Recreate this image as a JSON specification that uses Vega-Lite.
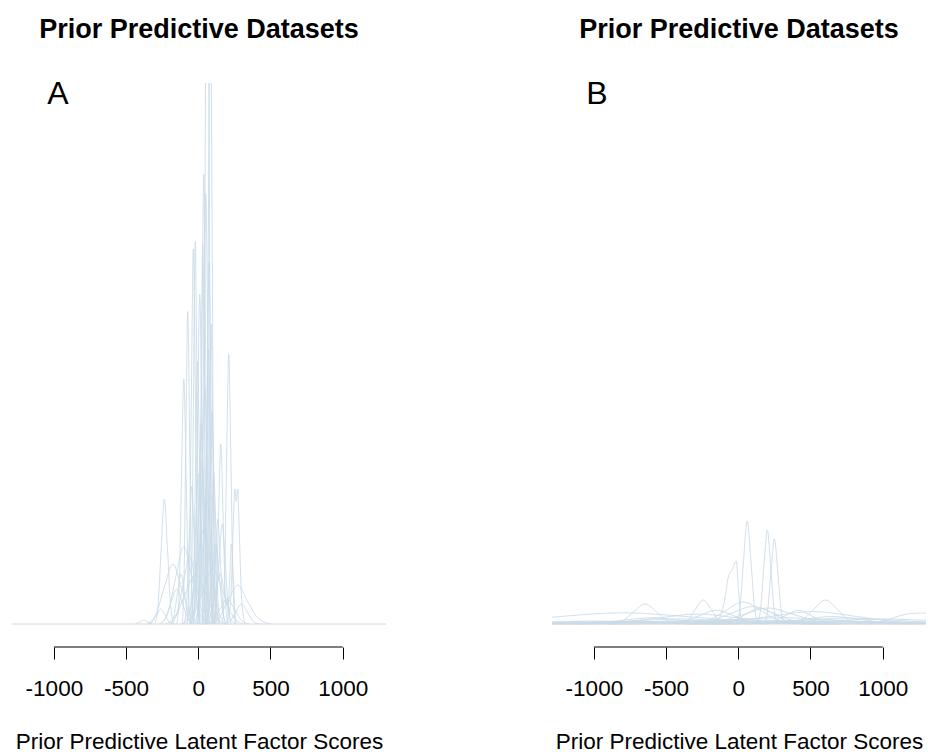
{
  "$schema": "https://vega.github.io/schema/vega-lite/v6.json",
  "padding": {"left": 11, "top": 16, "right": 0, "bottom": 0},
  "config": {
    "view": {"stroke": null},
    "font": "Liberation Sans",
    "title": {"fontSize": 27, "fontWeight": "bold", "color": "#000000", "font": "Liberation Sans", "offset": 34, "anchor": "middle"},
    "axisX": {
      "domain": false,
      "grid": false,
      "ticks": true,
      "tickSize": 12,
      "tickColor": "#000000",
      "tickWidth": 1,
      "labelFontSize": 22.5,
      "labelColor": "#000000",
      "labelPadding": 18,
      "labelFlush": false,
      "labelOverlap": false,
      "titleFontSize": 22.5,
      "titleFontWeight": "normal",
      "titleColor": "#000000",
      "titlePadding": 31
    }
  },
  "datasets": {
    "curvesA": [
      {"curve":"a1","score":26,"density":0},{"curve":"a1","score":38,"density":5.0},{"curve":"a1","score":50,"density":21.6},{"curve":"a1","score":62,"density":36},{"curve":"a1","score":74,"density":21.6},{"curve":"a1","score":86,"density":5.0},{"curve":"a1","score":98,"density":0},
      {"curve":"a2","score":47,"density":0},{"curve":"a2","score":59,"density":3.9},{"curve":"a2","score":71,"density":16.8},{"curve":"a2","score":83,"density":28},{"curve":"a2","score":95,"density":16.8},{"curve":"a2","score":107,"density":3.9},{"curve":"a2","score":119,"density":0},
      {"curve":"a3","score":-1,"density":0},{"curve":"a3","score":12,"density":2.5},{"curve":"a3","score":25,"density":10.8},{"curve":"a3","score":38,"density":18},{"curve":"a3","score":51,"density":10.8},{"curve":"a3","score":64,"density":2.5},{"curve":"a3","score":77,"density":0},
      {"curve":"a4","score":4,"density":0},{"curve":"a4","score":20,"density":2.4},{"curve":"a4","score":36,"density":10.3},{"curve":"a4","score":52,"density":17.2},{"curve":"a4","score":68,"density":10.3},{"curve":"a4","score":84,"density":2.4},{"curve":"a4","score":100,"density":0},
      {"curve":"a5","score":-57,"density":0},{"curve":"a5","score":-45,"density":2.1},{"curve":"a5","score":-33,"density":9.2},{"curve":"a5","score":-21,"density":15.3},{"curve":"a5","score":-9,"density":9.2},{"curve":"a5","score":3,"density":2.1},{"curve":"a5","score":15,"density":0},
      {"curve":"a6","score":-35,"density":0},{"curve":"a6","score":-20,"density":1.8},{"curve":"a6","score":-5,"density":7.9},{"curve":"a6","score":10,"density":13.2},{"curve":"a6","score":25,"density":7.9},{"curve":"a6","score":40,"density":1.8},{"curve":"a6","score":55,"density":0},
      {"curve":"a7","score":-112,"density":0},{"curve":"a7","score":-99,"density":1.75},{"curve":"a7","score":-86,"density":7.5},{"curve":"a7","score":-73,"density":12.5},{"curve":"a7","score":-60,"density":7.5},{"curve":"a7","score":-47,"density":1.75},{"curve":"a7","score":-34,"density":0},
      {"curve":"a8","score":166,"density":0},{"curve":"a8","score":181,"density":1.5},{"curve":"a8","score":196,"density":6.5},{"curve":"a8","score":211,"density":10.8},{"curve":"a8","score":226,"density":6.5},{"curve":"a8","score":241,"density":1.5},{"curve":"a8","score":256,"density":0},
      {"curve":"a9","score":-148,"density":0},{"curve":"a9","score":-132,"density":1.4},{"curve":"a9","score":-116,"density":5.9},{"curve":"a9","score":-100,"density":9.8},{"curve":"a9","score":-84,"density":5.9},{"curve":"a9","score":-68,"density":1.4},{"curve":"a9","score":-52,"density":0},
      {"curve":"a10","score":108,"density":0},{"curve":"a10","score":124,"density":1.0},{"curve":"a10","score":140,"density":4.3},{"curve":"a10","score":156,"density":7.2},{"curve":"a10","score":172,"density":4.3},{"curve":"a10","score":188,"density":1.0},{"curve":"a10","score":204,"density":0},
      {"curve":"a11","score":62,"density":0},{"curve":"a11","score":77,"density":0.85},{"curve":"a11","score":92,"density":3.7},{"curve":"a11","score":107,"density":6.1},{"curve":"a11","score":122,"density":3.7},{"curve":"a11","score":137,"density":0.85},{"curve":"a11","score":152,"density":0},
      {"curve":"a12","score":200,"density":0},{"curve":"a12","score":225,"density":1.0},{"curve":"a12","score":240,"density":3.5},{"curve":"a12","score":253,"density":5.4},{"curve":"a12","score":263,"density":4.9},{"curve":"a12","score":273,"density":5.4},{"curve":"a12","score":285,"density":3.5},{"curve":"a12","score":300,"density":1.0},{"curve":"a12","score":325,"density":0},
      {"curve":"a13","score":-301,"density":0},{"curve":"a13","score":-279,"density":0.7},{"curve":"a13","score":-257,"density":3.0},{"curve":"a13","score":-235,"density":5.0},{"curve":"a13","score":-213,"density":3.0},{"curve":"a13","score":-191,"density":0.7},{"curve":"a13","score":-169,"density":0},
      {"curve":"a14","score":-5,"density":0},{"curve":"a14","score":7,"density":2.1},{"curve":"a14","score":19,"density":9.1},{"curve":"a14","score":31,"density":15.2},{"curve":"a14","score":43,"density":9.1},{"curve":"a14","score":55,"density":2.1},{"curve":"a14","score":67,"density":0},
      {"curve":"a15","score":-76,"density":0},{"curve":"a15","score":-62,"density":2.1},{"curve":"a15","score":-48,"density":9.0},{"curve":"a15","score":-34,"density":15.0},{"curve":"a15","score":-20,"density":9.0},{"curve":"a15","score":-6,"density":2.1},{"curve":"a15","score":8,"density":0},
      {"curve":"a16","score":28,"density":0},{"curve":"a16","score":42,"density":1.5},{"curve":"a16","score":56,"density":6.6},{"curve":"a16","score":70,"density":11},{"curve":"a16","score":84,"density":6.6},{"curve":"a16","score":98,"density":1.5},{"curve":"a16","score":112,"density":0},
      {"curve":"a17","score":50,"density":0},{"curve":"a17","score":65,"density":1.2},{"curve":"a17","score":80,"density":5.1},{"curve":"a17","score":95,"density":8.5},{"curve":"a17","score":110,"density":5.1},{"curve":"a17","score":125,"density":1.2},{"curve":"a17","score":140,"density":0},
      {"curve":"a18","score":-34,"density":0},{"curve":"a18","score":-16,"density":1.1},{"curve":"a18","score":2,"density":4.8},{"curve":"a18","score":20,"density":8},{"curve":"a18","score":38,"density":4.8},{"curve":"a18","score":56,"density":1.1},{"curve":"a18","score":74,"density":0},
      {"curve":"a19","score":36,"density":0},{"curve":"a19","score":49,"density":2.0},{"curve":"a19","score":62,"density":8.7},{"curve":"a19","score":75,"density":14.5},{"curve":"a19","score":88,"density":8.7},{"curve":"a19","score":101,"density":2.0},{"curve":"a19","score":114,"density":0},
      {"curve":"a20","score":-15,"density":0},{"curve":"a20","score":5,"density":1.3},{"curve":"a20","score":25,"density":5.7},{"curve":"a20","score":45,"density":9.5},{"curve":"a20","score":65,"density":5.7},{"curve":"a20","score":85,"density":1.3},{"curve":"a20","score":105,"density":0},
      {"curve":"a21","score":-60,"density":0},{"curve":"a21","score":-40,"density":0.85},{"curve":"a21","score":-20,"density":3.6},{"curve":"a21","score":0,"density":6.0},{"curve":"a21","score":20,"density":3.6},{"curve":"a21","score":40,"density":0.85},{"curve":"a21","score":60,"density":0},
      {"curve":"a22","score":-99,"density":0},{"curve":"a22","score":-81,"density":0.8},{"curve":"a22","score":-63,"density":3.3},{"curve":"a22","score":-45,"density":5.5},{"curve":"a22","score":-27,"density":3.3},{"curve":"a22","score":-9,"density":0.8},{"curve":"a22","score":9,"density":0},
      {"curve":"a23","score":81,"density":0},{"curve":"a23","score":99,"density":0.6},{"curve":"a23","score":117,"density":2.5},{"curve":"a23","score":135,"density":4.2},{"curve":"a23","score":153,"density":2.5},{"curve":"a23","score":171,"density":0.6},{"curve":"a23","score":189,"density":0},
      {"curve":"a24","score":99,"density":0},{"curve":"a24","score":121,"density":0.55},{"curve":"a24","score":143,"density":2.4},{"curve":"a24","score":165,"density":4.0},{"curve":"a24","score":187,"density":2.4},{"curve":"a24","score":209,"density":0.55},{"curve":"a24","score":231,"density":0},
      {"curve":"a25","score":46,"density":0},{"curve":"a25","score":71,"density":0.45},{"curve":"a25","score":96,"density":1.9},{"curve":"a25","score":121,"density":3.2},{"curve":"a25","score":146,"density":1.9},{"curve":"a25","score":171,"density":0.45},{"curve":"a25","score":196,"density":0},
      {"curve":"a26","score":-265,"density":0},{"curve":"a26","score":-210,"density":0.45},{"curve":"a26","score":-155,"density":1.9},{"curve":"a26","score":-100,"density":3.1},{"curve":"a26","score":-45,"density":1.9},{"curve":"a26","score":10,"density":0.45},{"curve":"a26","score":65,"density":0},
      {"curve":"a27","score":-356,"density":0},{"curve":"a27","score":-296,"density":0.35},{"curve":"a27","score":-236,"density":1.45},{"curve":"a27","score":-176,"density":2.4},{"curve":"a27","score":-116,"density":1.45},{"curve":"a27","score":-56,"density":0.35},{"curve":"a27","score":4,"density":0},
      {"curve":"a28","score":78,"density":0},{"curve":"a28","score":143,"density":0.25},{"curve":"a28","score":208,"density":0.95},{"curve":"a28","score":273,"density":1.56},{"curve":"a28","score":338,"density":0.95},{"curve":"a28","score":403,"density":0.3},{"curve":"a28","score":500,"density":0},
      {"curve":"a29","score":-437,"density":0},{"curve":"a29","score":-397,"density":0.1},{"curve":"a29","score":-377,"density":0.16},{"curve":"a29","score":-357,"density":0.1},{"curve":"a29","score":-317,"density":0},
      {"curve":"a30","score":-110,"density":0},{"curve":"a30","score":-60,"density":0.5},{"curve":"a30","score":-10,"density":2.3},{"curve":"a30","score":40,"density":3.8},{"curve":"a30","score":90,"density":2.3},{"curve":"a30","score":140,"density":0.5},{"curve":"a30","score":190,"density":0},
      {"curve":"a31","score":-230,"density":0},{"curve":"a31","score":-160,"density":0.3},{"curve":"a31","score":-90,"density":1.2},{"curve":"a31","score":-20,"density":2.0},{"curve":"a31","score":50,"density":1.2},{"curve":"a31","score":120,"density":0.3},{"curve":"a31","score":190,"density":0},
      {"curve":"a32","score":-110,"density":0},{"curve":"a32","score":-40,"density":0.3},{"curve":"a32","score":30,"density":1.3},{"curve":"a32","score":100,"density":2.2},{"curve":"a32","score":170,"density":1.3},{"curve":"a32","score":240,"density":0.3},{"curve":"a32","score":310,"density":0},
      {"curve":"a33","score":-270,"density":0},{"curve":"a33","score":-230,"density":0.2},{"curve":"a33","score":-190,"density":0.85},{"curve":"a33","score":-150,"density":1.4},{"curve":"a33","score":-110,"density":0.85},{"curve":"a33","score":-70,"density":0.2},{"curve":"a33","score":-30,"density":0},
      {"curve":"a34","score":50,"density":0},{"curve":"a34","score":100,"density":0.14},{"curve":"a34","score":150,"density":0.6},{"curve":"a34","score":200,"density":1.0},{"curve":"a34","score":250,"density":0.6},{"curve":"a34","score":300,"density":0.14},{"curve":"a34","score":350,"density":0},
      {"curve":"a35","score":-195,"density":0},{"curve":"a35","score":-150,"density":0.38},{"curve":"a35","score":-105,"density":1.6},{"curve":"a35","score":-60,"density":2.7},{"curve":"a35","score":-15,"density":1.6},{"curve":"a35","score":30,"density":0.38},{"curve":"a35","score":75,"density":0},
      {"curve":"a36","score":-30,"density":0},{"curve":"a36","score":0,"density":0.7},{"curve":"a36","score":30,"density":3.0},{"curve":"a36","score":60,"density":5.0},{"curve":"a36","score":90,"density":3.0},{"curve":"a36","score":120,"density":0.7},{"curve":"a36","score":150,"density":0},
      {"curve":"a37","score":45,"density":0},{"curve":"a37","score":80,"density":0.28},{"curve":"a37","score":115,"density":1.2},{"curve":"a37","score":150,"density":2.0},{"curve":"a37","score":185,"density":1.2},{"curve":"a37","score":220,"density":0.28},{"curve":"a37","score":255,"density":0},
      {"curve":"a38","score":180,"density":0},{"curve":"a38","score":220,"density":0.11},{"curve":"a38","score":260,"density":0.48},{"curve":"a38","score":300,"density":0.8},{"curve":"a38","score":340,"density":0.48},{"curve":"a38","score":380,"density":0.11},{"curve":"a38","score":420,"density":0},
      {"curve":"a39","score":-350,"density":0},{"curve":"a39","score":-320,"density":0.08},{"curve":"a39","score":-290,"density":0.36},{"curve":"a39","score":-260,"density":0.6},{"curve":"a39","score":-230,"density":0.36},{"curve":"a39","score":-200,"density":0.08},{"curve":"a39","score":-170,"density":0},
      {"curve":"a40","score":194,"density":0},{"curve":"a40","score":206,"density":0.45},{"curve":"a40","score":218,"density":1.9},{"curve":"a40","score":230,"density":3.2},{"curve":"a40","score":242,"density":1.9},{"curve":"a40","score":254,"density":0.45},{"curve":"a40","score":266,"density":0},
      {"curve":"a41","score":-47,"density":0},{"curve":"a41","score":-33,"density":1.5},{"curve":"a41","score":-19,"density":6.3},{"curve":"a41","score":-5,"density":10.5},{"curve":"a41","score":9,"density":6.3},{"curve":"a41","score":23,"density":1.5},{"curve":"a41","score":37,"density":0},
      {"curve":"a42","score":49,"density":0},{"curve":"a42","score":62,"density":1.7},{"curve":"a42","score":75,"density":7.2},{"curve":"a42","score":88,"density":12},{"curve":"a42","score":101,"density":7.2},{"curve":"a42","score":114,"density":1.7},{"curve":"a42","score":127,"density":0},
      {"curve":"a43","score":-50,"density":0},{"curve":"a43","score":-25,"density":0.9},{"curve":"a43","score":0,"density":3.9},{"curve":"a43","score":25,"density":6.5},{"curve":"a43","score":50,"density":3.9},{"curve":"a43","score":75,"density":0.9},{"curve":"a43","score":100,"density":0},
      {"curve":"a44","score":-195,"density":0},{"curve":"a44","score":-170,"density":0.28},{"curve":"a44","score":-145,"density":1.2},{"curve":"a44","score":-120,"density":2.0},{"curve":"a44","score":-95,"density":1.2},{"curve":"a44","score":-70,"density":0.28},{"curve":"a44","score":-45,"density":0}
    ],
    "curvesB": [
      {"curve":"b1","score":-16,"density":0},{"curve":"b1","score":10,"density":0.58},{"curve":"b1","score":36,"density":2.5},{"curve":"b1","score":62,"density":4.12},{"curve":"b1","score":88,"density":2.5},{"curve":"b1","score":114,"density":0.58},{"curve":"b1","score":140,"density":0},
      {"curve":"b2","score":129,"density":0},{"curve":"b2","score":153,"density":0.53},{"curve":"b2","score":177,"density":2.26},{"curve":"b2","score":201,"density":3.76},{"curve":"b2","score":225,"density":2.26},{"curve":"b2","score":249,"density":0.53},{"curve":"b2","score":273,"density":0},
      {"curve":"b3","score":178,"density":0},{"curve":"b3","score":202,"density":0.48},{"curve":"b3","score":226,"density":2.04},{"curve":"b3","score":250,"density":3.4},{"curve":"b3","score":274,"density":2.04},{"curve":"b3","score":298,"density":0.48},{"curve":"b3","score":322,"density":0},
      {"curve":"b4","score":-170,"density":0},{"curve":"b4","score":-130,"density":0.25},{"curve":"b4","score":-90,"density":1.1},{"curve":"b4","score":-69,"density":1.88},{"curve":"b4","score":-40,"density":2.2},{"curve":"b4","score":-14,"density":2.52},{"curve":"b4","score":2,"density":1.3},{"curve":"b4","score":20,"density":0.2},{"curve":"b4","score":40,"density":0},
      {"curve":"b5","score":355,"density":0},{"curve":"b5","score":438,"density":0.13},{"curve":"b5","score":521,"density":0.58},{"curve":"b5","score":604,"density":0.96},{"curve":"b5","score":687,"density":0.58},{"curve":"b5","score":770,"density":0.13},{"curve":"b5","score":853,"density":0},
      {"curve":"b6","score":-885,"density":0},{"curve":"b6","score":-805,"density":0.11},{"curve":"b6","score":-725,"density":0.48},{"curve":"b6","score":-645,"density":0.8},{"curve":"b6","score":-565,"density":0.48},{"curve":"b6","score":-485,"density":0.11},{"curve":"b6","score":-405,"density":0},
      {"curve":"b7","score":-408,"density":0},{"curve":"b7","score":-353,"density":0.13},{"curve":"b7","score":-298,"density":0.58},{"curve":"b7","score":-243,"density":0.96},{"curve":"b7","score":-188,"density":0.58},{"curve":"b7","score":-133,"density":0.13},{"curve":"b7","score":-78,"density":0},
      {"curve":"b8","score":-340,"density":0},{"curve":"b8","score":-215,"density":0.12},{"curve":"b8","score":-90,"density":0.53},{"curve":"b8","score":35,"density":0.88},{"curve":"b8","score":160,"density":0.53},{"curve":"b8","score":285,"density":0.12},{"curve":"b8","score":410,"density":0},
      {"curve":"b9","score":-314,"density":0},{"curve":"b9","score":-140,"density":0.09},{"curve":"b9","score":34,"density":0.38},{"curve":"b9","score":208,"density":0.64},{"curve":"b9","score":382,"density":0.38},{"curve":"b9","score":556,"density":0.09},{"curve":"b9","score":730,"density":0},
      {"curve":"b10","score":900,"density":0},{"curve":"b10","score":1000,"density":0.1},{"curve":"b10","score":1100,"density":0.3},{"curve":"b10","score":1200,"density":0.42},{"curve":"b10","score":1284,"density":0.44},{"curve":"b10","score":1400,"density":0.3},{"curve":"b10","score":1500,"density":0.1},
      {"curve":"b11","score":-2300,"density":0},{"curve":"b11","score":-1800,"density":0.06},{"curve":"b11","score":-1300,"density":0.27},{"curve":"b11","score":-800,"density":0.45},{"curve":"b11","score":-300,"density":0.27},{"curve":"b11","score":200,"density":0.06},{"curve":"b11","score":700,"density":0},
      {"curve":"b12","score":-1112,"density":0},{"curve":"b12","score":-834,"density":0.06},{"curve":"b12","score":-556,"density":0.24},{"curve":"b12","score":-278,"density":0.4},{"curve":"b12","score":0,"density":0.24},{"curve":"b12","score":278,"density":0.06},{"curve":"b12","score":556,"density":0},
      {"curve":"b13","score":-278,"density":0},{"curve":"b13","score":69,"density":0.03},{"curve":"b13","score":416,"density":0.14},{"curve":"b13","score":763,"density":0.24},{"curve":"b13","score":1110,"density":0.14},{"curve":"b13","score":1457,"density":0.03},{"curve":"b13","score":1804,"density":0},
      {"curve":"b14","score":-380,"density":0},{"curve":"b14","score":-80,"density":0.07},{"curve":"b14","score":220,"density":0.3},{"curve":"b14","score":520,"density":0.5},{"curve":"b14","score":820,"density":0.3},{"curve":"b14","score":1120,"density":0.07},{"curve":"b14","score":1420,"density":0},
      {"curve":"b15","score":-350,"density":0},{"curve":"b15","score":-200,"density":0.1},{"curve":"b15","score":-50,"density":0.42},{"curve":"b15","score":100,"density":0.7},{"curve":"b15","score":250,"density":0.42},{"curve":"b15","score":400,"density":0.1},{"curve":"b15","score":550,"density":0},
      {"curve":"b16","score":-1450,"density":0},{"curve":"b16","score":-1100,"density":0.03},{"curve":"b16","score":-750,"density":0.12},{"curve":"b16","score":-400,"density":0.2},{"curve":"b16","score":-50,"density":0.12},{"curve":"b16","score":300,"density":0.03},{"curve":"b16","score":650,"density":0},
      {"curve":"b17","score":-1800,"density":0},{"curve":"b17","score":-1200,"density":0.02},{"curve":"b17","score":-600,"density":0.1},{"curve":"b17","score":0,"density":0.16},{"curve":"b17","score":600,"density":0.1},{"curve":"b17","score":1200,"density":0.02},{"curve":"b17","score":1800,"density":0},
      {"curve":"b18","score":-900,"density":0},{"curve":"b18","score":-500,"density":0.035},{"curve":"b18","score":-100,"density":0.15},{"curve":"b18","score":300,"density":0.25},{"curve":"b18","score":700,"density":0.15},{"curve":"b18","score":1100,"density":0.035},{"curve":"b18","score":1500,"density":0},
      {"curve":"b19","score":-1900,"density":0},{"curve":"b19","score":-1600,"density":0.017},{"curve":"b19","score":-1300,"density":0.07},{"curve":"b19","score":-1000,"density":0.12},{"curve":"b19","score":-700,"density":0.07},{"curve":"b19","score":-400,"density":0.017},{"curve":"b19","score":-100,"density":0},
      {"curve":"b20","score":-200,"density":0},{"curve":"b20","score":200,"density":0.03},{"curve":"b20","score":600,"density":0.12},{"curve":"b20","score":1000,"density":0.2},{"curve":"b20","score":1400,"density":0.12},{"curve":"b20","score":1800,"density":0.03},{"curve":"b20","score":2200,"density":0},
      {"curve":"b22","score":146,"density":0},{"curve":"b22","score":236,"density":0.08},{"curve":"b22","score":326,"density":0.33},{"curve":"b22","score":416,"density":0.55},{"curve":"b22","score":506,"density":0.33},{"curve":"b22","score":596,"density":0.08},{"curve":"b22","score":686,"density":0},
      {"curve":"b23","score":-150,"density":0},{"curve":"b23","score":-50,"density":0.09},{"curve":"b23","score":50,"density":0.38},{"curve":"b23","score":150,"density":0.64},{"curve":"b23","score":250,"density":0.38},{"curve":"b23","score":350,"density":0.09},{"curve":"b23","score":450,"density":0},
      {"curve":"b24","score":-510,"density":0},{"curve":"b24","score":-390,"density":0.08},{"curve":"b24","score":-270,"density":0.33},{"curve":"b24","score":-150,"density":0.55},{"curve":"b24","score":-30,"density":0.33},{"curve":"b24","score":90,"density":0.08},{"curve":"b24","score":210,"density":0},
      {"curve":"b25","score":50,"density":0},{"curve":"b25","score":250,"density":0.04},{"curve":"b25","score":450,"density":0.18},{"curve":"b25","score":650,"density":0.3},{"curve":"b25","score":850,"density":0.18},{"curve":"b25","score":1050,"density":0.04},{"curve":"b25","score":1250,"density":0},
      {"curve":"b26","score":-1200,"density":0},{"curve":"b26","score":-1000,"density":0.035},{"curve":"b26","score":-800,"density":0.15},{"curve":"b26","score":-600,"density":0.25},{"curve":"b26","score":-400,"density":0.15},{"curve":"b26","score":-200,"density":0.035},{"curve":"b26","score":0,"density":0},
      {"curve":"b27","score":-2700,"density":0},{"curve":"b27","score":-1900,"density":0.014},{"curve":"b27","score":-1100,"density":0.06},{"curve":"b27","score":-300,"density":0.1},{"curve":"b27","score":500,"density":0.06},{"curve":"b27","score":1300,"density":0.014},{"curve":"b27","score":2100,"density":0},
      {"curve":"b28","score":-2300,"density":0},{"curve":"b28","score":-1400,"density":0.017},{"curve":"b28","score":-500,"density":0.07},{"curve":"b28","score":400,"density":0.12},{"curve":"b28","score":1300,"density":0.07},{"curve":"b28","score":2200,"density":0.017},{"curve":"b28","score":3100,"density":0},
      {"curve":"b29","score":-1300,"density":0},{"curve":"b29","score":-600,"density":0.011},{"curve":"b29","score":100,"density":0.05},{"curve":"b29","score":800,"density":0.08},{"curve":"b29","score":1500,"density":0.05},{"curve":"b29","score":2200,"density":0.011},{"curve":"b29","score":2900,"density":0},
      {"curve":"b30","score":-3000,"density":0},{"curve":"b30","score":-2300,"density":0.014},{"curve":"b30","score":-1600,"density":0.06},{"curve":"b30","score":-900,"density":0.1},{"curve":"b30","score":-200,"density":0.06},{"curve":"b30","score":500,"density":0.014},{"curve":"b30","score":1200,"density":0}
    ]
  },
  "hconcat": [
    {
      "title": "Prior Predictive Datasets",
      "width": 374,
      "height": 564,
      "layer": [
        {
          "data": {"values": [{"density": 0}]},
          "mark": {"type": "rule", "color": "#d6d6d6", "strokeWidth": 1},
          "encoding": {"y": {"field": "density", "type": "quantitative", "scale": {"domain": [-0.92, 21.64], "nice": false, "zero": false}, "axis": null}}
        },
        {
          "data": {"name": "curvesA"},
          "mark": {"type": "line", "interpolate": "monotone", "stroke": "#c9dbe7", "strokeWidth": 1, "opacity": 0.85, "clip": true},
          "encoding": {
            "x": {"field": "score", "type": "quantitative", "scale": {"domain": [-1290, 1300], "nice": false, "zero": false},
                  "axis": {"values": [-1000, -500, 0, 500, 1000], "labelExpr": "datum.value + ''", "title": "Prior Predictive Latent Factor Scores"}},
            "y": {"field": "density", "type": "quantitative", "scale": {"domain": [-0.92, 21.64], "nice": false, "zero": false}, "axis": null},
            "detail": {"field": "curve"}
          }
        },
        {
          "data": {"values": [{"start": -1000, "end": 1000, "level": -0.92}]},
          "mark": {"type": "rule", "color": "#000000", "strokeWidth": 1},
          "encoding": {
            "x": {"field": "start", "type": "quantitative"},
            "x2": {"field": "end"},
            "y": {"field": "level", "type": "quantitative", "axis": null}
          }
        },
        {
          "data": {"values": [{"letter": "A", "score": -972, "density": 21.2}]},
          "mark": {"type": "text", "fontSize": 32, "color": "#000000", "align": "center", "baseline": "middle"},
          "encoding": {
            "x": {"field": "score", "type": "quantitative"},
            "y": {"field": "density", "type": "quantitative", "axis": null},
            "text": {"field": "letter"}
          }
        }
      ]
    },
    {
      "title": "Prior Predictive Datasets",
      "width": 374,
      "height": 564,
      "layer": [
        {
          "data": {"values": [{"density": 0}]},
          "mark": {"type": "rule", "color": "#d6d6d6", "strokeWidth": 1},
          "encoding": {"y": {"field": "density", "type": "quantitative", "scale": {"domain": [-0.92, 21.64], "nice": false, "zero": false}, "axis": null}}
        },
        {
          "data": {"name": "curvesB"},
          "mark": {"type": "line", "interpolate": "monotone", "stroke": "#c9dbe7", "strokeWidth": 1, "opacity": 0.85, "clip": true},
          "encoding": {
            "x": {"field": "score", "type": "quantitative", "scale": {"domain": [-1290, 1300], "nice": false, "zero": false},
                  "axis": {"values": [-1000, -500, 0, 500, 1000], "labelExpr": "datum.value + ''", "title": "Prior Predictive Latent Factor Scores"}},
            "y": {"field": "density", "type": "quantitative", "scale": {"domain": [-0.92, 21.64], "nice": false, "zero": false}, "axis": null},
            "detail": {"field": "curve"}
          }
        },
        {
          "data": {"values": [{"start": -1000, "end": 1000, "level": -0.92}]},
          "mark": {"type": "rule", "color": "#000000", "strokeWidth": 1},
          "encoding": {
            "x": {"field": "start", "type": "quantitative"},
            "x2": {"field": "end"},
            "y": {"field": "level", "type": "quantitative", "axis": null}
          }
        },
        {
          "data": {"values": [{"letter": "B", "score": -979, "density": 21.2}]},
          "mark": {"type": "text", "fontSize": 32, "color": "#000000", "align": "center", "baseline": "middle"},
          "encoding": {
            "x": {"field": "score", "type": "quantitative"},
            "y": {"field": "density", "type": "quantitative", "axis": null},
            "text": {"field": "letter"}
          }
        }
      ]
    }
  ],
  "spacing": 164
}
